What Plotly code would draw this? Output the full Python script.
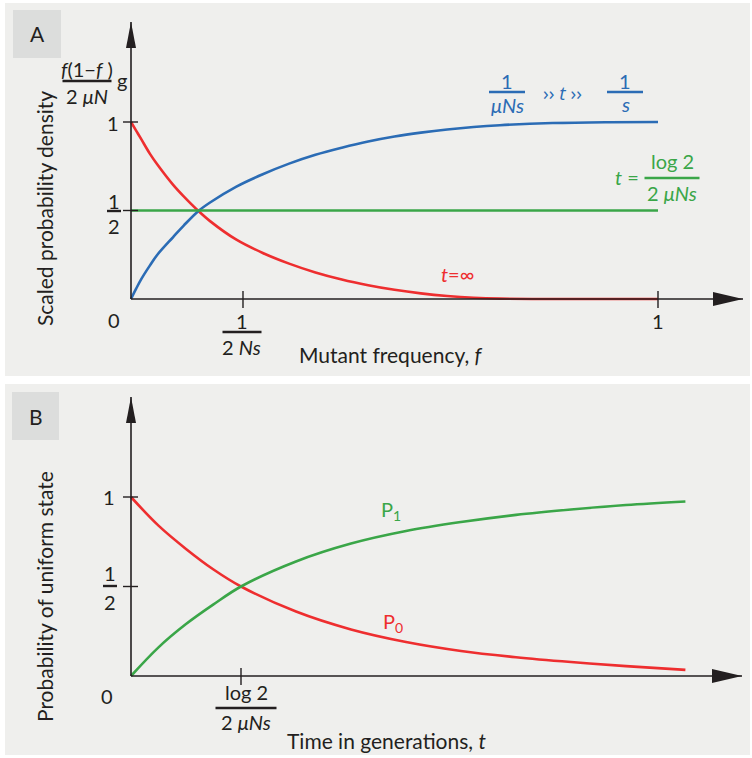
import plotly.graph_objects as go

W, H = 752, 758
FONT = "Lato"
INK = "#231f20"
RED = "#ee2e2f"
BLUE = "#2b6cb5"
GREEN = "#3aa648"
PANEL = "#efefed"
TAB = "#dcdddc"
FS = 20

# ---------------- data: panel A (scaled probability density vs mutant frequency) -------------
freq = [0, 0.01, 0.02, 0.036, 0.05, 0.08, 0.1, 0.127, 0.15, 0.2, 0.25, 0.3, 0.35, 0.4, 0.45,
        0.5, 0.55, 0.6, 0.65, 0.7, 0.8, 0.9, 1.0]
density_inf = [1.0, 0.95, 0.90, 0.82, 0.76, 0.645, 0.58, 0.50, 0.44, 0.335, 0.26, 0.20, 0.15,
               0.11, 0.078, 0.052, 0.032, 0.017, 0.007, 0.002, 0.0, 0.0, 0.0]
density_mid = [0.0, 0.06, 0.115, 0.19, 0.25, 0.35, 0.415, 0.495, 0.545, 0.635, 0.705, 0.765, 0.815,
               0.855, 0.89, 0.918, 0.94, 0.958, 0.972, 0.982, 0.994, 0.999, 1.0]
freq_half = [0, 1.0]
density_half = [0.5, 0.5]

# ---------------- data: panel B (probability of uniform state vs time) -------------
t_gen = [0, 0.25, 0.5, 0.75, 1.0, 1.5, 2.0, 2.5, 3.0, 3.5, 4.0, 4.5, 5.04]
p0 = [1.0, 0.84, 0.71, 0.595, 0.5, 0.36, 0.26, 0.19, 0.14, 0.105, 0.078, 0.055, 0.034]
p1 = [0.0, 0.16, 0.29, 0.40, 0.5, 0.64, 0.74, 0.81, 0.86, 0.90, 0.93, 0.955, 0.975]

# axis geometry (pixel placement of data origin / unit)
A_X0, A_XU, A_Y0, A_YU = 131, 527, 299, 177
B_X0, B_XU, B_Y0, B_YU = 131, 110, 676, 179


def xr(x0, xu):
    return [-x0 / xu, (W - x0) / xu]


def yr(y0, yu):
    return [(y0 - H) / yu, y0 / yu]


def px(x):
    return x / W


def py(y):
    return 1 - y / H


fig = go.Figure()
fig.add_trace(go.Scatter(x=freq, y=density_inf, mode="lines", line=dict(color=RED, width=2.6, shape="spline"),
                         xaxis="x", yaxis="y", showlegend=False, hoverinfo="skip"))
fig.add_trace(go.Scatter(x=freq, y=density_mid, mode="lines", line=dict(color=BLUE, width=2.6, shape="spline"),
                         xaxis="x", yaxis="y", showlegend=False, hoverinfo="skip"))
fig.add_trace(go.Scatter(x=freq_half, y=density_half, mode="lines", line=dict(color=GREEN, width=2.6),
                         xaxis="x", yaxis="y", showlegend=False, hoverinfo="skip"))
fig.add_trace(go.Scatter(x=t_gen, y=p0, mode="lines", line=dict(color=RED, width=2.6, shape="spline"),
                         xaxis="x2", yaxis="y2", showlegend=False, hoverinfo="skip"))
fig.add_trace(go.Scatter(x=t_gen, y=p1, mode="lines", line=dict(color=GREEN, width=2.6, shape="spline"),
                         xaxis="x2", yaxis="y2", showlegend=False, hoverinfo="skip"))

shapes = []
ann = []

# panels
shapes.append(dict(type="rect", xref="paper", yref="paper", x0=px(5), x1=px(750), y0=py(3), y1=py(376),
                   fillcolor=PANEL, line=dict(width=0), layer="below"))
shapes.append(dict(type="rect", xref="paper", yref="paper", x0=px(5), x1=px(750), y0=py(384), y1=py(755),
                   fillcolor=PANEL, line=dict(width=0), layer="below"))
shapes.append(dict(type="rect", xref="paper", yref="paper", x0=px(13), x1=px(61), y0=py(10), y1=py(58),
                   fillcolor=TAB, line=dict(width=0), layer="below"))
shapes.append(dict(type="rect", xref="paper", yref="paper", x0=px(12), x1=px(59), y0=py(392), y1=py(440),
                   fillcolor=TAB, line=dict(width=0), layer="below"))


def axes(xa, ya, xtip, ytip):
    shapes.append(dict(type="line", xref=xa, yref=ya, x0=0, x1=xtip, y0=0, y1=0,
                       line=dict(color=INK, width=1.6)))
    shapes.append(dict(type="line", xref=xa, yref=ya, x0=0, x1=0, y0=0, y1=ytip,
                       line=dict(color=INK, width=1.6)))
    shapes.append(dict(type="path", xref=xa, yref=ya, xsizemode="pixel", ysizemode="pixel",
                       xanchor=xtip, yanchor=0, path="M 0,0 L -30,7 L -30,-7 Z",
                       fillcolor=INK, line=dict(width=0)))
    shapes.append(dict(type="path", xref=xa, yref=ya, xsizemode="pixel", ysizemode="pixel",
                       xanchor=0, yanchor=ytip, path="M 0,0 L -5,-26 L 5,-26 Z",
                       fillcolor=INK, line=dict(width=0)))


def xtick(xa, ya, v):
    shapes.append(dict(type="line", xref=xa, yref=ya, ysizemode="pixel", yanchor=0,
                       x0=v, x1=v, y0=-9, y1=8, line=dict(color=INK, width=1.4)))


def ytick(xa, ya, v):
    shapes.append(dict(type="line", xref=xa, yref=ya, xsizemode="pixel", xanchor=0,
                       x0=-8, x1=7, y0=v, y1=v, line=dict(color=INK, width=1.4)))


def text(t, x, y, size=FS, color=INK, angle=0, xanchor="center", family=FONT):
    ann.append(dict(text=t, x=px(x), y=py(y), xref="paper", yref="paper", showarrow=False,
                    xanchor=xanchor, yanchor="middle", textangle=angle,
                    font=dict(family=family, size=size, color=color)))


def frac(num, den, xc, ybar, width, color=INK, size=FS, dn=11, dd=14):
    text(num, xc, ybar - dn, size, color)
    text(den, xc, ybar + dd, size, color)
    shapes.append(dict(type="line", xref="paper", yref="paper", x0=px(xc - width / 2), x1=px(xc + width / 2),
                       y0=py(ybar), y1=py(ybar), line=dict(color=color, width=2.4)))


# ---- panel A
axes("x", "y", (743 - A_X0) / A_XU, (A_Y0 - 22) / A_YU)
xtick("x", "y", 0.2125)
xtick("x", "y", 1.0)
ytick("x", "y", 1.0)
ytick("x", "y", 0.5)
text("A", 37, 34, 21)
text("Scaled probability density", 44, 209, 21, angle=-90)
frac("<i>f</i>(1−<i>f</i> )", "2 <i>μN</i>", 87, 81, 49, dn=12, dd=15)
text("g", 122, 80)
text("1", 113, 123)
frac("1", "2", 114, 211, 14, dn=10, dd=15)
text("0", 114, 320)
frac("1", "2 <i>Ns</i>", 242, 332, 39, dn=11, dd=15)
text("1", 658, 321)
text("Mutant frequency, <i>f</i>", 391, 354, 21)
# curve labels
frac("1", "<i>μNs</i>", 507, 92, 36, BLUE, dn=11, dd=13)
text("›› <i>t</i> ››", 562, 93, 19, BLUE, family="Open Sans")
frac("1", "<i>s</i>", 625, 92, 36, BLUE, dn=11, dd=12)
text("<i>t</i> =", 627, 177, FS, GREEN)
frac("log 2", "2 <i>μNs</i>", 672, 178, 55, GREEN, dn=17, dd=15)
text("<i>t</i>=∞", 457, 274, FS, RED)

# ---- panel B
axes("x2", "y2", (742 - B_X0) / B_XU, (B_Y0 - 397) / B_YU)
xtick("x2", "y2", 1.0)
ytick("x2", "y2", 1.0)
ytick("x2", "y2", 0.5)
text("B", 36, 416, 21)
text("Probability of uniform state", 44, 597, 21, angle=-90)
text("1", 109, 497)
frac("1", "2", 110, 586, 14, dn=13, dd=16)
text("0", 107, 696)
frac("log 2", "2 <i>μNs</i>", 246, 708, 61, dn=16, dd=14)
text("Time in generations, <i>t</i>", 386, 740, 21)
text("P<sub>1</sub>", 391, 510, FS, GREEN)
text("P<sub>0</sub>", 393, 622, FS, RED)

ax_common = dict(visible=False, showgrid=False, zeroline=False, fixedrange=True, domain=[0, 1])
fig.update_layout(
    width=W, height=H, margin=dict(l=0, r=0, t=0, b=0),
    paper_bgcolor="white", plot_bgcolor="rgba(0,0,0,0)",
    xaxis=dict(range=xr(A_X0, A_XU), **ax_common),
    yaxis=dict(range=yr(A_Y0, A_YU), **ax_common),
    xaxis2=dict(range=xr(B_X0, B_XU), overlaying="x", **ax_common),
    yaxis2=dict(range=yr(B_Y0, B_YU), overlaying="y", **ax_common),
    shapes=shapes, annotations=ann, showlegend=False,
)
fig.write_html("out.html")
